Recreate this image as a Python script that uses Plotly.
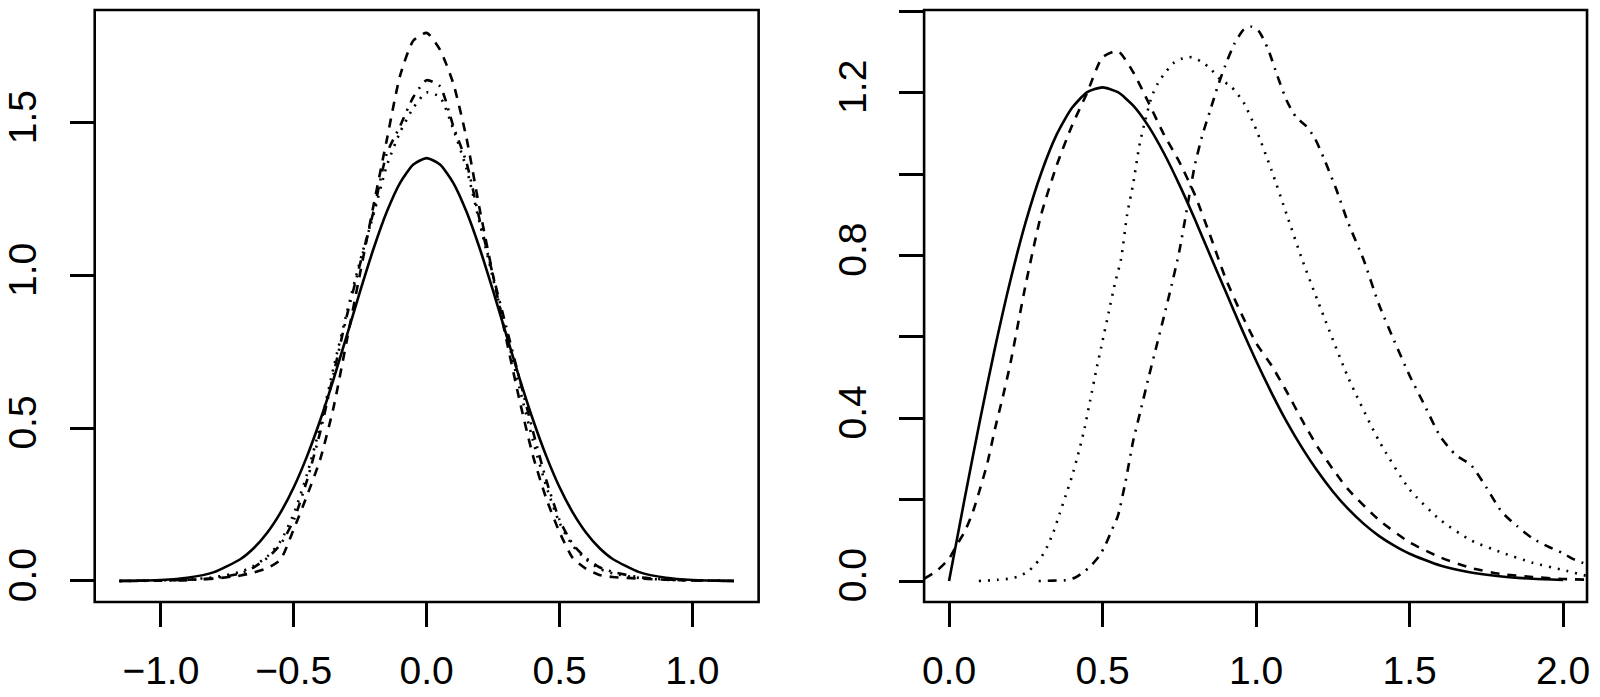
import plotly.graph_objects as go

# left panel: symmetric densities on a common grid
left_x = [-1.156, -1.0, -0.9, -0.8, -0.7, -0.65, -0.6, -0.55, -0.5, -0.45, -0.4, -0.35,
          -0.3, -0.25, -0.2, -0.15, -0.1, -0.05, 0.0, 0.05, 0.1, 0.15, 0.2, 0.25, 0.3,
          0.35, 0.4, 0.45, 0.5, 0.55, 0.6, 0.65, 0.7, 0.8, 0.9, 1.0, 1.156]
left_solid = [0.0005, 0.0033, 0.0105, 0.029, 0.072, 0.108, 0.158, 0.224, 0.307, 0.409,
              0.528, 0.662, 0.805, 0.950, 1.088, 1.209, 1.304, 1.364, 1.385, 1.364, 1.304,
              1.209, 1.088, 0.950, 0.805, 0.662, 0.528, 0.409, 0.307, 0.224, 0.158, 0.108,
              0.072, 0.029, 0.0105, 0.0033, 0.0005]
left_dashed = [0.0, 0.002, 0.004, 0.008, 0.018, 0.028, 0.042, 0.07, 0.17, 0.28, 0.40, 0.57,
               0.79, 1.01, 1.23, 1.445, 1.655, 1.77, 1.795, 1.74, 1.63, 1.45, 1.215, 1.0,
               0.79, 0.59, 0.41, 0.27, 0.16, 0.075, 0.04, 0.02, 0.013, 0.008, 0.004, 0.002, 0.0]
left_dotted = [0.0, 0.002, 0.005, 0.012, 0.03, 0.05, 0.08, 0.13, 0.22, 0.35, 0.51, 0.70,
               0.88, 1.05, 1.20, 1.36, 1.47, 1.55, 1.60, 1.585, 1.48, 1.35, 1.17, 0.99,
               0.81, 0.63, 0.46, 0.31, 0.19, 0.115, 0.07, 0.04, 0.025, 0.01, 0.004, 0.002, 0.0]
left_dotdash = [0.0, 0.001, 0.003, 0.009, 0.025, 0.045, 0.075, 0.12, 0.20, 0.33, 0.49, 0.68,
                0.87, 1.04, 1.21, 1.40, 1.49, 1.585, 1.64, 1.62, 1.49, 1.37, 1.18, 1.0,
                0.83, 0.66, 0.49, 0.33, 0.20, 0.12, 0.075, 0.045, 0.03, 0.012, 0.005, 0.002, 0.0]

# right panel: skewed densities
right_solid_x = [0.0, 0.05, 0.1, 0.15, 0.2, 0.25, 0.3, 0.35, 0.4, 0.45, 0.5, 0.55, 0.6, 0.65,
                 0.7, 0.75, 0.8, 0.85, 0.9, 0.95, 1.0, 1.05, 1.1, 1.15, 1.2, 1.25, 1.3, 1.35,
                 1.4, 1.45, 1.5, 1.6, 1.7, 1.8, 1.9, 2.0]
right_solid = [0.0, 0.199, 0.392, 0.574, 0.739, 0.883, 1.002, 1.096, 1.162, 1.201, 1.213,
               1.201, 1.168, 1.117, 1.051, 0.974, 0.890, 0.801, 0.713, 0.625, 0.541, 0.463,
               0.391, 0.327, 0.270, 0.220, 0.177, 0.141, 0.111, 0.087, 0.067, 0.038, 0.021,
               0.011, 0.0056, 0.0027]
right_dashed_x = [-0.08, -0.04, 0.0, 0.025, 0.05, 0.075, 0.1, 0.125, 0.15, 0.175, 0.2, 0.25,
                  0.3, 0.35, 0.4, 0.45, 0.5, 0.55, 0.6, 0.65, 0.7, 0.75, 0.8, 0.85, 0.9, 0.95,
                  1.0, 1.05, 1.1, 1.15, 1.2, 1.25, 1.3, 1.4, 1.5, 1.6, 1.7, 1.8, 1.9, 2.0, 2.08]
right_dashed = [0.006, 0.025, 0.055, 0.088, 0.12, 0.164, 0.224, 0.29, 0.375, 0.452, 0.535,
                0.73, 0.90, 1.02, 1.118, 1.20, 1.287, 1.302, 1.25, 1.175, 1.097, 1.03, 0.95,
                0.85, 0.745, 0.66, 0.585, 0.53, 0.465, 0.395, 0.33, 0.275, 0.225, 0.15, 0.095,
                0.058, 0.032, 0.017, 0.01, 0.005, 0.003]
right_dotted_x = [0.097, 0.16, 0.2, 0.23, 0.26, 0.28, 0.3, 0.32, 0.34, 0.36, 0.38, 0.4, 0.42,
                  0.44, 0.46, 0.48, 0.5, 0.52, 0.54, 0.56, 0.58, 0.6, 0.62, 0.64, 0.66, 0.68,
                  0.7, 0.73, 0.76, 0.79, 0.82, 0.85, 0.88, 0.92, 0.96, 1.0, 1.05, 1.1, 1.15,
                  1.2, 1.3, 1.4, 1.5, 1.6, 1.7, 1.8, 1.9, 2.0, 2.08]
right_dotted = [0.0, 0.003, 0.006, 0.012, 0.025, 0.04, 0.058, 0.085, 0.12, 0.165, 0.21, 0.256,
                0.31, 0.37, 0.445, 0.52, 0.59, 0.66, 0.73, 0.79, 0.9, 0.977, 1.07, 1.135,
                1.19, 1.223, 1.245, 1.272, 1.284, 1.287, 1.277, 1.26, 1.235, 1.214, 1.175,
                1.11, 1.01, 0.90, 0.79, 0.69, 0.50, 0.345, 0.225, 0.15, 0.10, 0.07, 0.045,
                0.027, 0.012]
right_dotdash_x = [0.292, 0.34, 0.38, 0.41, 0.435, 0.46, 0.49, 0.51, 0.53, 0.55, 0.575, 0.6,
                   0.625, 0.65, 0.675, 0.7, 0.725, 0.75, 0.775, 0.8, 0.825, 0.85, 0.875, 0.9,
                   0.93, 0.96, 0.985, 1.01, 1.04, 1.07, 1.1, 1.13, 1.16, 1.19, 1.22, 1.26, 1.3,
                   1.35, 1.4, 1.45, 1.5, 1.55, 1.6, 1.65, 1.7, 1.75, 1.8, 1.85, 1.9, 1.95,
                   2.0, 2.03, 2.08]
right_dotdash = [0.0, 0.001, 0.002, 0.008, 0.02, 0.036, 0.062, 0.09, 0.125, 0.16, 0.245,
                 0.345, 0.422, 0.50, 0.575, 0.65, 0.727, 0.81, 0.915, 1.02, 1.095, 1.155,
                 1.215, 1.267, 1.321, 1.355, 1.362, 1.35, 1.305, 1.24, 1.18, 1.14, 1.12, 1.09,
                 1.04, 0.965, 0.88, 0.79, 0.68, 0.59, 0.505, 0.43, 0.355, 0.31, 0.285, 0.23,
                 0.17, 0.135, 0.105, 0.085, 0.068, 0.055, 0.04]

left_xticks = [-1.0, -0.5, 0.0, 0.5, 1.0]
left_xlabels = ["\u22121.0", "\u22120.5", "0.0", "0.5", "1.0"]
left_yticks = [0.0, 0.5, 1.0, 1.5]
left_ylabels = ["0.0", "0.5", "1.0", "1.5"]
right_xticks = [0.0, 0.5, 1.0, 1.5, 2.0]
right_xlabels = ["0.0", "0.5", "1.0", "1.5", "2.0"]
right_yticks = [0.0, 0.2, 0.4, 0.6, 0.8, 1.0, 1.2, 1.4]
right_ylabels = ["0.0", "", "0.4", "", "0.8", "", "1.2", ""]

W, H = 1600, 697
LW = 2.6
styles = {
    "solid": "solid",
    "dashed": "9px,8px",
    "dotted": "2px,7px",
    "dotdash": "2px,7px,9px,7px",
}

fig = go.Figure()


def add(x, y, kind, xa, ya):
    fig.add_trace(go.Scatter(x=x, y=y, mode="lines", xaxis=xa, yaxis=ya,
                             line=dict(color="black", width=LW, dash=styles[kind],
                                       shape="spline", smoothing=0.6),
                             showlegend=False, hoverinfo="skip"))


add(left_x, left_solid, "solid", "x", "y")
add(left_x, left_dashed, "dashed", "x", "y")
add(left_x, left_dotted, "dotted", "x", "y")
add(left_x, left_dotdash, "dotdash", "x", "y")
add(right_solid_x, right_solid, "solid", "x2", "y2")
add(right_dashed_x, right_dashed, "dashed", "x2", "y2")
add(right_dotted_x, right_dotted, "dotted", "x2", "y2")
add(right_dotdash_x, right_dotdash, "dotdash", "x2", "y2")

font = dict(family="Liberation Sans, Arial, sans-serif", size=39, color="black")
common = dict(showgrid=False, zeroline=False, showline=False, ticks="outside",
              ticklen=24, tickwidth=LW, tickcolor="black", tickmode="array",
              tickfont=font, fixedrange=True)

# box pixel positions
bottom, top = 602, 10
ydom = [(H - bottom) / H, (H - top) / H]

fig.update_layout(
    width=W, height=H,
    margin=dict(l=0, r=0, t=0, b=0),
    paper_bgcolor="white", plot_bgcolor="white",
    xaxis=dict(domain=[93 / W, 759 / W], range=[-1.249, 1.249], anchor="y",
               tickvals=left_xticks, ticktext=left_xlabels, ticklabelstandoff=10, **common),
    yaxis=dict(domain=ydom, range=[-0.0688, 1.870], anchor="x",
               tickvals=left_yticks, ticktext=left_ylabels, tickangle=-90,
               ticklabelstandoff=18, **common),
    xaxis2=dict(domain=[925 / W, 1590 / W], range=[-0.0812, 2.078], anchor="y2",
                tickvals=right_xticks, ticktext=right_xlabels, ticklabelstandoff=10, **common),
    yaxis2=dict(domain=ydom, range=[-0.0516, 1.403], anchor="x2",
                tickvals=right_yticks, ticktext=right_ylabels, tickangle=-90,
                ticklabelstandoff=18, **common),
)

for xr, yr in (("x domain", "y domain"), ("x2 domain", "y2 domain")):
    fig.add_shape(type="rect", xref=xr, yref=yr, x0=0, x1=1, y0=0, y1=1,
                  line=dict(color="black", width=LW))

fig.write_html("out.html", config={"displayModeBar": False},
               post_script="document.body.style.margin='0';")
